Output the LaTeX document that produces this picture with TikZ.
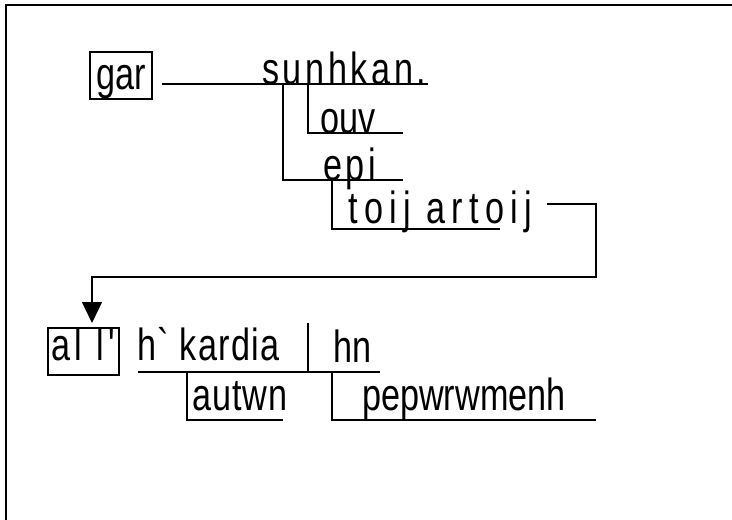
\documentclass[tikz,border=0pt]{standalone}
\usepackage{fontspec}
\usepackage{tikz}
\usetikzlibrary{arrows.meta}
\newfontfamily\grk{Liberation Sans}[FakeStretch=0.76]

\begin{document}
\begin{tikzpicture}[x=1pt, y=-1pt,
        word/.style = {anchor = base west, inner sep = 0pt, font = \grk\fontsize{45}{50}\selectfont},
        wide/.style = {font = \grk\fontsize{45}{50}\selectfont\addfontfeature{LetterSpace = #1}},
        wordbox/.style = {word, draw, line width = 1.5pt, text height = 29pt, text depth = 12pt, inner ysep = 3pt},
        rule/.style = {line width = 1.3pt}]
                \useasboundingbox (0, 0) rectangle (732, 520);
                \draw [line width = 2.5pt] (6, 530) -- (6, 5) -- (740, 5);

                % first clause
                \node [wordbox, text height = 35pt, text depth = 8pt, inner ysep = 2pt, minimum width = 62pt] (gar) at (89, 89) {gar};
                \draw [rule] (162, 84) -- (428, 84);
                \node [word, wide = 8] (sunhkan) at (262, 84) {sunhkan.};

                \draw [rule] (308, 84) -- (308, 133) -- (403, 133);
                \node [word] (ouv) at (320, 133) {ouv};

                \draw [rule] (283, 84) -- (283, 180) -- (403, 180);
                \node [word, wide = 8] (epi) at (323, 180) {epi};

                \draw [rule] (332, 180) -- (332, 229) -- (500, 229);
                \node [word, wide = 14] (toij) at (348, 223) {toij artoij};

                % second clause
                \node [wordbox, wide = 10, minimum width = 71pt] (all) at (47, 360) {al l'};
                \coordinate (jump) at (547, 204);
                \coordinate (drop) at (92, 323);
                \draw [rule, -{Triangle[width = 20pt, length = 21pt]}] (jump) -- (596, 204) -- (596, 277) -- (92, 277) -- (drop);

                \draw [rule] (138, 372) -- (380, 372);
                \draw [rule] (308, 323) -- (308, 372);
                \node [word, wide = 3] (kardia) at (137, 360) {h` kardia};
                \node [word] (hn) at (333, 362) {hn};

                \draw [rule] (187, 372) -- (187, 420) -- (283, 420);
                \node [word, wide = 2] (autwn) at (192, 410) {autwn};

                \draw [rule] (332, 372) -- (332, 420) -- (596, 420);
                \node [word] (pepwrwmenh) at (362, 410) {pepwrwmenh};
            \end{tikzpicture}
\end{document}
